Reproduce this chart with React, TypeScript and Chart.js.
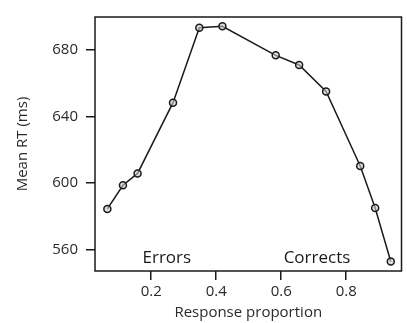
import React, { useEffect, useRef } from "react";
import { Chart, registerables } from "chart.js";

Chart.register(...registerables);

const responseProportion = [0.065, 0.113, 0.158, 0.267, 0.348, 0.419, 0.583, 0.655, 0.738, 0.843, 0.889, 0.937];
const meanRT = [584.5, 598.7, 605.8, 648.3, 693.2, 694.1, 676.7, 670.9, 655, 610.3, 585, 553];
const xTicks = [0.2, 0.4, 0.6, 0.8];
const yTicks = [560, 600, 640, 680];
const annotationTexts = ["Errors", "Corrects"];
const annotationX = [0.248, 0.71];
const annotationY = [554.8, 554.8];

const FONT = "'Open Sans', sans-serif";

export default function App() {
  const ref = useRef<HTMLCanvasElement | null>(null);
  useEffect(() => {
    document.body.style.margin = "0";
    const ctx = ref.current!;
    const boxPlugin = {
      id: "box",
      afterDraw(chart: any) {
        const { ctx, chartArea: a, scales } = chart;
        ctx.save();
        ctx.strokeStyle = "#1a1a1a";
        ctx.lineWidth = 1.5;
        ctx.strokeRect(a.left, a.top, a.right - a.left, a.bottom - a.top);
        ctx.fillStyle = "#1a1a1a";
        ctx.font = `17px ${FONT}`;
        ctx.textAlign = "center";
        ctx.textBaseline = "middle";
        annotationTexts.forEach((t, i) => {
          ctx.fillText(t, scales.x.getPixelForValue(annotationX[i]), scales.y.getPixelForValue(annotationY[i]));
        });
        ctx.restore();
      },
    };
    const chart = new Chart(ctx, {
      type: "line",
      data: {
        datasets: [
          {
            data: responseProportion.map((x, i) => ({ x, y: meanRT[i] })),
            borderColor: "#1a1a1a",
            borderWidth: 1.5,
            pointRadius: 3.5,
            pointBorderWidth: 1.5,
            pointBackgroundColor: "rgba(200,200,200,0.6)",
            pointBorderColor: "#1a1a1a",
            tension: 0,
          },
        ],
      },
      options: {
        animation: false,
        responsive: false,
        maintainAspectRatio: false,
        layout: { padding: { top: 8, right: 1, left: 0, bottom: 0 } },
        plugins: { legend: { display: false }, tooltip: { enabled: false } },
        scales: {
          x: {
            type: "linear",
            min: 0.027,
            max: 0.97,
            afterBuildTicks: (s: any) => {
              s.ticks = xTicks.map((v) => ({ value: v }));
            },
            afterFit: (s: any) => {
              s.height = 52;
            },
            grid: { display: true, drawOnChartArea: false, tickLength: 9, color: "#1a1a1a", lineWidth: 1.5 },
            border: { display: false },
            ticks: { font: { family: FONT, size: 15 }, color: "#2a2a2a", padding: 3, callback: (v: any) => String(v) },
            title: { display: true, text: "Response proportion", font: { family: FONT, size: 15 }, color: "#2a2a2a", padding: { top: 0, bottom: 1 } },
          },
          y: {
            type: "linear",
            min: 547.25,
            max: 699.7,
            afterBuildTicks: (s: any) => {
              s.ticks = yTicks.map((v) => ({ value: v }));
            },
            afterFit: (s: any) => {
              s.width = 95;
            },
            grid: { display: true, drawOnChartArea: false, tickLength: 9, color: "#1a1a1a", lineWidth: 1.5 },
            border: { display: false },
            ticks: { font: { family: FONT, size: 15 }, color: "#2a2a2a", padding: 8 },
            title: { display: true, text: "Mean RT (ms)", font: { family: FONT, size: 15 }, color: "#2a2a2a", padding: { top: 14, bottom: 0 } },
          },
        },
      },
      plugins: [boxPlugin],
    });
    return () => chart.destroy();
  }, []);
  return (
    <div style={{ position: "relative", width: 407, height: 323 }}>
      <canvas ref={ref} width={407} height={323} style={{ display: "block" }} />
    </div>
  );
}
